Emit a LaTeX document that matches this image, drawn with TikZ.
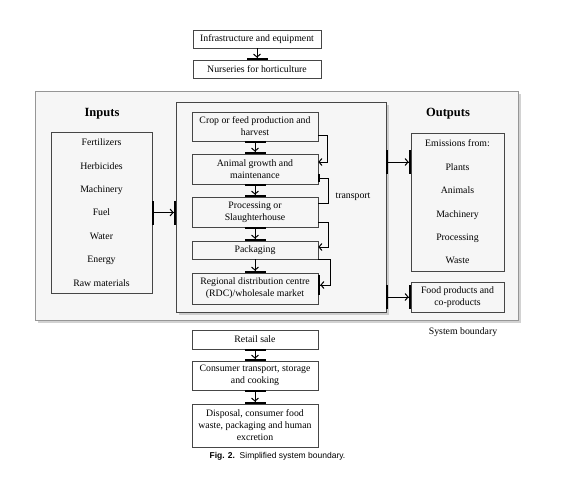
\documentclass[tikz,border=0pt]{standalone}
\usepackage{fontspec}
\setmainfont{Liberation Serif}
\newfontfamily\capfont{Liberation Sans}
\usetikzlibrary{arrows.meta,positioning,calc,shadows}
\definecolor{bd}{RGB}{70,70,70}
\definecolor{sb}{RGB}{150,150,150}
\definecolor{sbfill}{RGB}{246,246,246}

\begin{document}
\begin{tikzpicture}[x=1pt,y=-1pt,
    blk/.style={rectangle,draw=bd,line width=0.6pt,align=center,inner sep=1pt,minimum width=126pt,font=\fontsize{9.8}{12}\selectfont},
    lst/.style={rectangle,draw=bd,line width=0.6pt,align=center,inner sep=1pt,font=\fontsize{9.8}{23.4}\selectfont},
    hd/.style={font=\fontsize{12.5}{14}\selectfont\bfseries},
    lbl/.style={font=\fontsize{9.8}{12}\selectfont},
    sysbox/.style={rectangle,line width=0.8pt,fill=sbfill,drop shadow={shadow xshift=2.5pt,shadow yshift=-2.5pt,fill=gray!70}},
    flow/.style={{Bar[width=21pt,line width=2pt]}-{Straight Barb[length=3pt,width=7pt,line width=1pt] Bar[width=21pt,line width=2pt]},line width=0.8pt},
    flowend/.style={-{Straight Barb[length=3pt,width=7pt,line width=1pt] Bar[width=21pt,line width=2pt]},line width=0.8pt},
    flowh/.style={{Bar[width=24pt,line width=2pt]}-{Straight Barb[length=3pt,width=7pt,line width=1pt] Bar[width=24pt,line width=2pt]},line width=0.8pt},
    tr/.style={-{Straight Barb[length=3pt,width=7pt,line width=1pt]},line width=0.8pt},
]
\useasboundingbox (0,0) rectangle (563,482);

% top
\node[blk,minimum width=128pt,minimum height=18pt] (infra) at (257,39) {Infrastructure and equipment};
\node[blk,minimum width=128pt,minimum height=18pt] (nurs) at (257,69) {Nurseries for horticulture};

% system boundary
\node[sysbox,draw=sb,minimum width=483pt,minimum height=229pt] (sys) at (276.5,205.5) {};
\node[sysbox,draw=bd,line width=0.6pt,minimum width=210pt,minimum height=210pt] (mid) at (281,207) {};

\node[hd] (inhd) at (102,114) {Inputs};
\node[lst,minimum width=101pt,minimum height=161pt] (inputs) at (101.5,212.5) {Fertilizers\\Herbicides\\Machinery\\Fuel\\Water\\Energy\\Raw materials};

\node[hd] (outhd) at (448,114) {Outputs};
\node[lst,minimum width=93pt,minimum height=138pt] (outputs) at (457.5,202) {Emissions from:\\Plants\\Animals\\Machinery\\Processing\\Waste};
\node[blk,minimum width=93pt,minimum height=30pt] (food) at (457.5,297) {Food products and\\co-products};

\node[blk,minimum height=29pt] (crop) at (255,126.5) {Crop or feed production and\\harvest};
\node[blk,minimum height=30pt] (anim) at (255,169) {Animal growth and\\maintenance};
\node[blk,minimum height=30pt] (proc) at (255,212) {Processing or\\Slaughterhouse};
\node[blk,minimum height=18pt] (pack) at (255,250) {Packaging};
\node[blk,minimum height=31pt] (rdc) at (255,288.5) {Regional distribution centre\\(RDC)/wholesale market};

\node[lbl] (trl) at (353,197) {transport};
\node[lbl] (sysl) at (463,332) {System boundary};

% consumer side
\node[blk,minimum height=19pt] (retail) at (255,339.5) {Retail sale};
\node[blk,minimum height=29pt] (cons) at (255,375.5) {Consumer transport, storage\\and cooking};
\node[blk,minimum height=43pt] (disp) at (255,425.5) {Disposal, consumer food\\waste, packaging and human\\excretion};

\node[font=\capfont\fontsize{8.5}{10}\selectfont] (cap) at (277.5,456) {\textbf{Fig. 2.}\ \ Simplified system boundary.};

% arrows
\draw[flowend] (infra) -- (nurs);
\draw[flow] (crop) -- (anim);
\draw[flow] (anim) -- (proc);
\draw[flow] (proc) -- (pack);
\draw[flowend] (pack) -- (rdc);
\draw[flow] (retail) -- (cons);
\draw[flow] (cons) -- (disp);

\draw[flowh] (inputs.east) -- (inputs.east -| mid.west);
\draw[flowh] ([yshift=45pt]mid.east) -- ([yshift=45pt]mid.east -| outputs.west);
\draw[flowh] (food.west -| mid.east) -- (food.west);

% transport
\draw[tr] ([yshift=-8.5pt]crop.east) -- ++(9,0) |- ([yshift=7pt]anim.east);
\draw[tr,{Bar[width=8pt,line width=1.5pt]}-] ([yshift=-9pt]anim.east) -- ++(10,0) |- ([yshift=9pt]proc.east);
\draw[tr] ([yshift=-10pt]proc.east) -- ++(10,0) |- ([yshift=3pt]pack.east);
\draw[tr,-{Straight Barb[length=3pt,width=7pt,line width=1pt] Bar[width=20pt,line width=2pt]}] (pack.south east) -- ++(12,0) |- ([yshift=3.5pt]rdc.east);
\end{tikzpicture}
\end{document}
